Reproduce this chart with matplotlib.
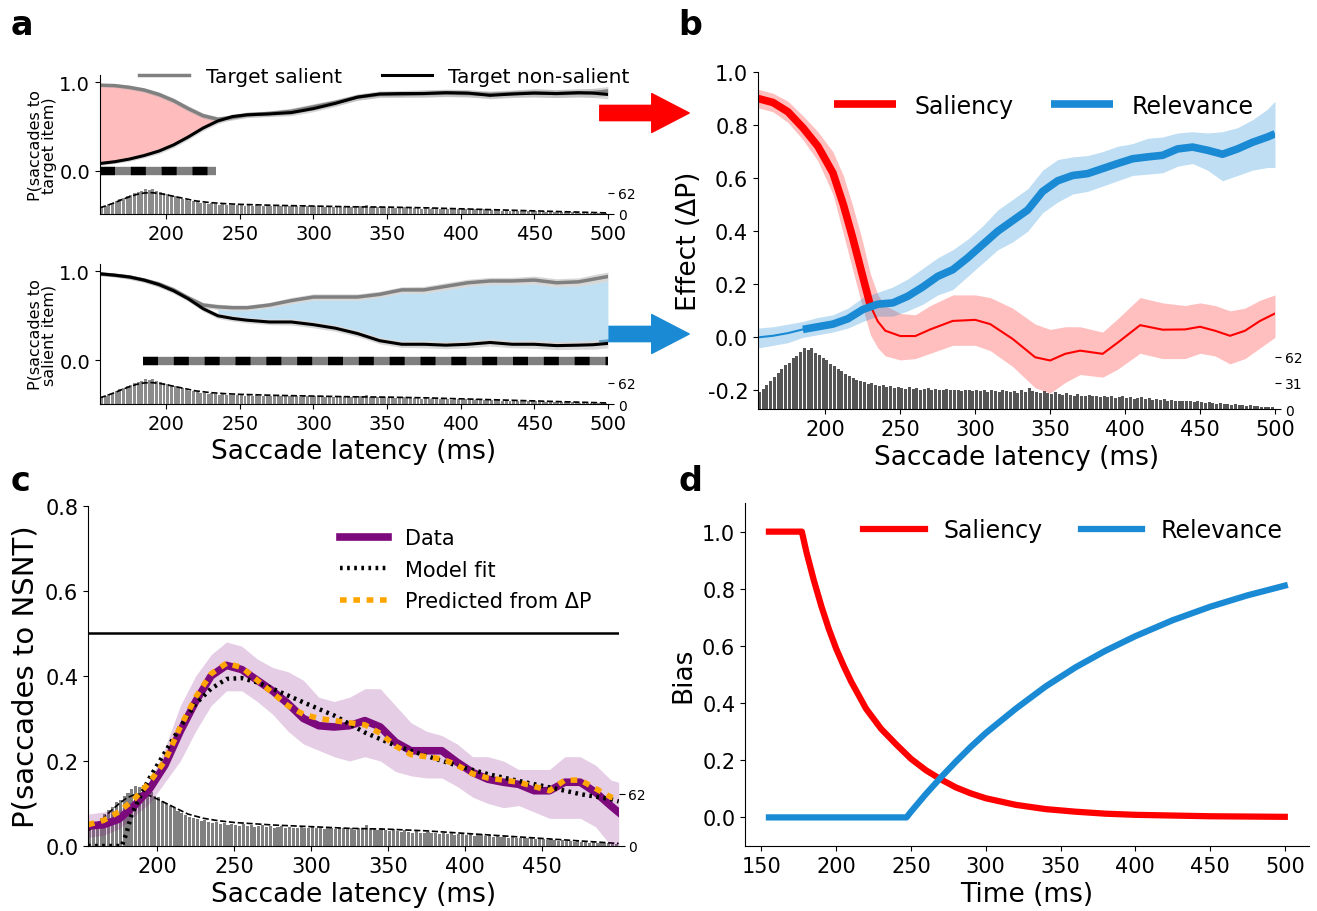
import numpy as np
import matplotlib.pyplot as plt
from matplotlib.patches import FancyArrowPatch

plt.rcParams['font.family'] = 'DejaVu Sans'
plt.rcParams['axes.unicode_minus'] = False

RED = '#ff0000'
BLUE = '#1a8ad4'
PURPLE = '#7d0a7d'
ORANGE = '#ffa500'

# ---------------- saccade latency histogram (2.5 ms bins from 155 ms) ----------------
hist_left = np.arange(155, 500, 2.5)
hist_counts = [20, 24, 29, 33, 38, 43, 47, 52, 55, 60, 63, 68,
               72, 70, 73, 66, 64, 60, 58, 53, 51, 48, 45, 42,
               39, 37, 35, 33, 32, 30, 31, 28, 27, 28, 26, 27,
               25, 26, 25, 24, 26, 24, 25, 23, 24, 25, 23, 24,
               22, 23, 24, 22, 23, 22, 21, 23, 22, 21, 23, 21,
               22, 20, 22, 21, 20, 22, 21, 20, 21, 19, 22, 20,
               25, 21, 20, 19, 21, 19, 18, 20, 18, 17, 19, 17,
               16, 18, 16, 15, 17, 15, 16, 14, 15, 14, 15, 13,
               14, 15, 13, 14, 12, 13, 14, 12, 13, 11, 12, 11,
               12, 10, 11, 10, 9, 10, 9, 9, 8, 9, 8, 7,
               8, 7, 6, 7, 6, 6, 5, 6, 5, 5, 4, 5,
               4, 4, 3, 3, 3, 2]
kde_x = [155, 160, 165, 170, 175, 180, 185, 190, 195, 200, 210, 220, 230, 240,
         250, 275, 300, 325, 350, 375, 400, 425, 450, 475, 500]
kde_y = [18, 25, 33, 42, 50, 57, 61, 62, 60, 56, 47, 38, 33, 30,
         28, 25, 23, 21, 20, 18, 15, 12, 9, 6, 3]

# ---------------- panel a ----------------
a_x = [155, 165, 175, 185, 195, 205, 215, 225, 235, 245, 255, 270, 285, 300,
       315, 330, 345, 360, 375, 390, 405, 420, 435, 450, 465, 480, 490, 500]
a1_salient = [0.965, 0.96, 0.94, 0.91, 0.86, 0.79, 0.70, 0.62, 0.58, 0.60, 0.63, 0.645, 0.67, 0.72,
              0.77, 0.83, 0.86, 0.86, 0.87, 0.875, 0.87, 0.86, 0.87, 0.88, 0.87, 0.875, 0.88, 0.90]
a1_nonsal = [0.08, 0.10, 0.13, 0.17, 0.22, 0.29, 0.38, 0.48, 0.56, 0.61, 0.63, 0.64, 0.655, 0.70,
             0.76, 0.83, 0.865, 0.87, 0.87, 0.88, 0.875, 0.85, 0.865, 0.875, 0.87, 0.88, 0.875, 0.86]
a2_salient = [0.97, 0.955, 0.935, 0.90, 0.855, 0.79, 0.70, 0.62, 0.60, 0.59, 0.59, 0.62, 0.67, 0.71,
              0.71, 0.71, 0.74, 0.79, 0.79, 0.83, 0.87, 0.89, 0.89, 0.90, 0.87, 0.88, 0.91, 0.94]
a2_nonsal = [0.97, 0.955, 0.935, 0.90, 0.85, 0.78, 0.69, 0.58, 0.50, 0.47, 0.45, 0.43, 0.43, 0.40,
             0.36, 0.30, 0.22, 0.18, 0.18, 0.17, 0.18, 0.20, 0.18, 0.18, 0.165, 0.17, 0.175, 0.19]
a_ci = [0.02, 0.02, 0.025, 0.025, 0.03, 0.03, 0.03, 0.03, 0.03, 0.03, 0.03, 0.03, 0.035, 0.035,
        0.035, 0.035, 0.035, 0.035, 0.04, 0.04, 0.04, 0.04, 0.04, 0.045, 0.045, 0.045, 0.05, 0.05]
a1_diff_end = 235
a2_diff_start = 230
a1_sig = (155, 234)
a2_sig = (184, 500)

# ---------------- panel b ----------------
sal_x = [155, 165, 175, 185, 195, 205, 212, 218, 224, 230, 235, 240, 250, 260, 270, 285, 300,
         310, 325, 340, 350, 360, 370, 385, 395, 410, 425, 440, 450, 460, 470, 480, 490, 500]
sal_y = [0.90, 0.885, 0.85, 0.79, 0.72, 0.62, 0.50, 0.38, 0.25, 0.12, 0.06, 0.025, 0.005, 0.005,
         0.03, 0.062, 0.066, 0.05, -0.006, -0.075, -0.087, -0.062, -0.05, -0.062, -0.02, 0.046,
         0.029, 0.03, 0.04, 0.025, 0.006, 0.025, 0.062, 0.09]
sal_hi = [0.935, 0.92, 0.89, 0.835, 0.775, 0.70, 0.61, 0.50, 0.38, 0.24, 0.16, 0.12, 0.09, 0.085,
          0.12, 0.16, 0.16, 0.15, 0.11, 0.05, 0.03, 0.04, 0.04, 0.02, 0.07, 0.15, 0.13, 0.12,
          0.13, 0.12, 0.10, 0.11, 0.14, 0.16]
sal_lo = [0.865, 0.85, 0.81, 0.745, 0.665, 0.54, 0.39, 0.26, 0.13, 0.01, -0.04, -0.07, -0.085,
          -0.08, -0.06, -0.03, -0.03, -0.05, -0.11, -0.19, -0.21, -0.17, -0.14, -0.15, -0.12,
          -0.06, -0.08, -0.08, -0.06, -0.07, -0.10, -0.08, -0.04, 0.0]
sal_sig_end = 232

rel_x = [155, 165, 175, 185, 195, 205, 215, 225, 235, 245, 255, 265, 275, 285, 295, 305, 315, 325,
         335, 345, 355, 365, 375, 385, 395, 405, 415, 425, 435, 445, 455, 465, 475, 485, 495, 500]
rel_y = [0.0, 0.006, 0.016, 0.03, 0.04, 0.05, 0.07, 0.105, 0.125, 0.13, 0.155, 0.19, 0.23, 0.255,
         0.30, 0.35, 0.40, 0.44, 0.48, 0.55, 0.59, 0.61, 0.617, 0.636, 0.655, 0.673, 0.68, 0.686,
         0.71, 0.717, 0.705, 0.69, 0.71, 0.735, 0.755, 0.767]
rel_hi = [0.035, 0.04, 0.05, 0.06, 0.075, 0.085, 0.11, 0.15, 0.17, 0.19, 0.22, 0.26, 0.30, 0.33,
          0.37, 0.42, 0.48, 0.52, 0.56, 0.63, 0.67, 0.68, 0.685, 0.70, 0.72, 0.73, 0.75, 0.755,
          0.77, 0.775, 0.77, 0.775, 0.79, 0.82, 0.86, 0.89]
rel_lo = [-0.04, -0.03, -0.02, 0.0, 0.01, 0.02, 0.035, 0.06, 0.08, 0.08, 0.10, 0.125, 0.16, 0.18,
          0.23, 0.28, 0.33, 0.36, 0.40, 0.47, 0.51, 0.54, 0.55, 0.57, 0.59, 0.61, 0.615, 0.62,
          0.645, 0.655, 0.63, 0.59, 0.61, 0.63, 0.64, 0.64]
rel_sig_start = 185

# ---------------- panel c ----------------
c_x = [155, 165, 175, 185, 195, 205, 215, 225, 235, 245, 255, 265, 275, 285, 295, 305, 315, 325,
       335, 345, 355, 365, 375, 385, 395, 405, 415, 425, 435, 445, 455, 465, 475, 485, 495, 500]
c_data = [0.047, 0.05, 0.063, 0.094, 0.134, 0.19, 0.27, 0.34, 0.40, 0.425, 0.415, 0.39, 0.365,
          0.335, 0.30, 0.283, 0.28, 0.283, 0.295, 0.28, 0.244, 0.224, 0.224, 0.224, 0.197, 0.173,
          0.157, 0.15, 0.145, 0.13, 0.13, 0.15, 0.15, 0.126, 0.094, 0.079]
c_hi = [0.075, 0.08, 0.085, 0.11, 0.15, 0.23, 0.33, 0.40, 0.45, 0.48, 0.47, 0.44, 0.42, 0.41,
        0.39, 0.35, 0.34, 0.35, 0.37, 0.37, 0.33, 0.29, 0.27, 0.26, 0.24, 0.21, 0.21, 0.20, 0.18,
        0.18, 0.18, 0.21, 0.21, 0.19, 0.155, 0.15]
c_lo = [0.02, 0.025, 0.04, 0.07, 0.10, 0.15, 0.20, 0.27, 0.33, 0.365, 0.365, 0.34, 0.31, 0.27,
        0.24, 0.225, 0.21, 0.20, 0.21, 0.20, 0.175, 0.165, 0.16, 0.16, 0.14, 0.115, 0.10, 0.09,
        0.095, 0.08, 0.065, 0.065, 0.065, 0.045, 0.0, 0.0]
c_pred = [0.05, 0.06, 0.08, 0.11, 0.15, 0.20, 0.28, 0.35, 0.405, 0.43, 0.42, 0.39, 0.36, 0.33,
          0.31, 0.30, 0.295, 0.29, 0.285, 0.265, 0.235, 0.215, 0.21, 0.205, 0.19, 0.17, 0.16,
          0.155, 0.15, 0.14, 0.13, 0.155, 0.155, 0.135, 0.115, 0.11]
fit_x = [155, 170, 177, 180, 183, 188, 195, 205, 215, 225, 235, 245, 255, 265, 275, 295, 315,
         335, 355, 375, 395, 415, 435, 455, 475, 495, 500]
fit_y = [0.0, 0.0, 0.0, 0.03, 0.07, 0.11, 0.16, 0.22, 0.28, 0.335, 0.37, 0.393, 0.395, 0.385,
         0.37, 0.338, 0.307, 0.267, 0.236, 0.212, 0.189, 0.169, 0.153, 0.138, 0.122, 0.11, 0.105]
chance = 0.5

# ---------------- panel d ----------------
dsal_x = [155, 177, 180, 185, 190, 195, 200, 205, 210, 220, 230, 240, 250, 260, 270, 280, 290,
          300, 320, 340, 360, 380, 400, 450, 500]
dsal_y = [1.0, 1.0, 0.93, 0.83, 0.74, 0.66, 0.59, 0.53, 0.475, 0.38, 0.31, 0.256, 0.205, 0.165,
          0.133, 0.105, 0.084, 0.067, 0.044, 0.029, 0.02, 0.013, 0.009, 0.004, 0.002]
drel_x = [155, 247, 250, 260, 270, 280, 290, 300, 320, 340, 360, 380, 400, 425, 450, 475, 500]
drel_y = [0.0, 0.0, 0.02, 0.082, 0.14, 0.195, 0.247, 0.295, 0.38, 0.458, 0.525, 0.583, 0.634,
          0.69, 0.737, 0.777, 0.811]


def style(ax):
    ax.spines['top'].set_visible(False)
    ax.spines['right'].set_visible(False)


def add_hist(ax, top, ticks, color, kde=True):
    tw = ax.twinx()
    tw.bar(hist_left, hist_counts, width=2.0, align='edge', color=color, lw=0)
    if kde:
        tw.plot(kde_x, kde_y, color='k', ls='--', lw=1.2)
    tw.set_ylim(0, top)
    tw.set_yticks(ticks)
    for s in tw.spines.values():
        s.set_visible(False)
    tw.tick_params(axis='y', length=4, labelsize=10, pad=3)
    ax.set_zorder(tw.get_zorder() + 1)
    ax.patch.set_visible(False)
    return tw


def sig_bar(ax, x0, x1):
    ax.plot([x0, x1], [-0.01, -0.01], color='#7f7f7f', lw=6, solid_capstyle='butt')
    ax.plot([x0, x1], [-0.01, -0.01], color='k', lw=6, dashes=(1.8, 1.9), dash_capstyle='butt')


fig = plt.figure(figsize=(13.17, 9.12), dpi=100)

# ---- a (top & bottom) ----
ax1 = fig.add_axes([0.0759, 0.7643, 0.3857, 0.1524])
ax2 = fig.add_axes([0.0759, 0.5559, 0.3857, 0.1535])
ax_arr = np.array(a_x)
ci = np.array(a_ci)
for ax, sal, non in [(ax1, a1_salient, a1_nonsal), (ax2, a2_salient, a2_nonsal)]:
    sal = np.array(sal)
    non = np.array(non)
    if ax is ax1:
        m = ax_arr <= a1_diff_end
        ax.fill_between(ax_arr[m], non[m], sal[m], color='#ffbcbc', lw=0)
        sig_bar(ax, *a1_sig)
        lab = 'P(saccades to\ntarget item)'
    else:
        m = ax_arr >= a2_diff_start
        ax.fill_between(ax_arr[m], non[m] + ci[m], sal[m] - ci[m], color='#bfe0f2', lw=0)
        sig_bar(ax, *a2_sig)
        lab = 'P(saccades to\nsalient item)'
    ax.fill_between(ax_arr, sal - ci, sal + ci, color='#b0b0b0', alpha=0.5, lw=0)
    ax.fill_between(ax_arr, non - ci, non + ci, color='#b0b0b0', alpha=0.5, lw=0)
    ax.plot(ax_arr, sal, color='#808080', lw=2.5, label='Target salient')
    ax.plot(ax_arr, non, color='k', lw=2.2, label='Target non-salient')
    ax.set_xlim(155, 500)
    ax.set_ylim(-0.49, 1.08)
    ax.set_yticks([0, 1])
    ax.set_yticklabels(['0.0', '1.0'])
    ax.set_xticks([200, 250, 300, 350, 400, 450, 500])
    ax.tick_params(labelsize=14)
    ax.set_ylabel(lab, fontsize=11.5, linespacing=0.9, labelpad=2)
    style(ax)
    add_hist(ax, 405, [0, 62], '#8c8c8c')
ax1.legend(loc='center', bbox_to_anchor=(0.56, 0.99), ncol=2, frameon=False, fontsize=14.5,
           handlelength=2.5, columnspacing=2.0)
ax2.set_xlabel('Saccade latency (ms)', fontsize=19, labelpad=4)

# ---- b ----
axb = fig.add_axes([0.5755, 0.5504, 0.3926, 0.3696])
sx = np.array(sal_x)
sy = np.array(sal_y)
rx = np.array(rel_x)
ry = np.array(rel_y)
axb.fill_between(sx, sal_lo, sal_hi, color=RED, alpha=0.25, lw=0)
axb.fill_between(rx, rel_lo, rel_hi, color=BLUE, alpha=0.28, lw=0)
axb.plot(sx, sy, color=RED, lw=1.5)
axb.plot(rx, ry, color=BLUE, lw=1.5)
ms = sx <= sal_sig_end
mr = rx >= rel_sig_start
axb.plot(sx[ms], sy[ms], color=RED, lw=5.5, label='Saliency', solid_capstyle='butt')
axb.plot(rx[mr], ry[mr], color=BLUE, lw=5.5, label='Relevance', solid_capstyle='butt')
axb.set_xlim(155, 500)
axb.set_ylim(-0.27, 1.0)
axb.set_yticks([-0.2, 0, 0.2, 0.4, 0.6, 0.8, 1.0])
axb.set_yticklabels(['-0.2', '0.0', '0.2', '0.4', '0.6', '0.8', '1.0'])
axb.set_xticks([200, 250, 300, 350, 400, 450, 500])
axb.tick_params(labelsize=15)
axb.set_ylabel('Effect (ΔP)', fontsize=19)
axb.set_xlabel('Saccade latency (ms)', fontsize=19, labelpad=4)
style(axb)
axb.legend(loc='center', bbox_to_anchor=(0.553, 0.9), ncol=2, frameon=False, fontsize=17,
           handlelength=2.6, columnspacing=1.6)
add_hist(axb, 400, [0, 31, 62], '#555555', kde=False)

# ---- c ----
axc = fig.add_axes([0.0668, 0.0713, 0.403, 0.3728])
axc.fill_between(c_x, c_lo, c_hi, color=PURPLE, alpha=0.2, lw=0)
axc.axhline(chance, color='k', lw=1.8)
axc.plot(c_x, c_data, color=PURPLE, lw=5.5, label='Data')
axc.plot(fit_x, fit_y, color='k', lw=3.2, ls=(0, (0.6, 1.0)), label='Model fit')
axc.plot(c_x, c_pred, color=ORANGE, lw=4, ls=(0, (1.2, 1.2)), label='Predicted from ΔP')
axc.set_xlim(155, 500)
axc.set_ylim(0, 0.8)
axc.set_yticks([0, 0.2, 0.4, 0.6, 0.8])
axc.set_xticks([200, 250, 300, 350, 400, 450])
axc.tick_params(labelsize=15)
axc.set_ylabel('P(saccades to NSNT)', fontsize=21)
axc.set_xlabel('Saccade latency (ms)', fontsize=19, labelpad=4)
style(axc)
axc.legend(loc='upper left', bbox_to_anchor=(0.44, 0.99), frameon=False, fontsize=15,
           handlelength=2.3, labelspacing=0.55)
add_hist(axc, 405, [0, 62], '#808080')

# ---- d ----
axd = fig.add_axes([0.5657, 0.0713, 0.428, 0.376])
axd.plot(dsal_x, dsal_y, color=RED, lw=4.5, label='Saliency')
axd.plot(drel_x, drel_y, color=BLUE, lw=4.5, label='Relevance')
axd.set_xlim(139, 516)
axd.set_ylim(-0.1, 1.1)
axd.set_yticks([0, 0.2, 0.4, 0.6, 0.8, 1.0])
axd.set_xticks([150, 200, 250, 300, 350, 400, 450, 500])
axd.tick_params(labelsize=15)
axd.set_ylabel('Bias', fontsize=19)
axd.set_xlabel('Time (ms)', fontsize=19, labelpad=4)
style(axd)
axd.legend(loc='center', bbox_to_anchor=(0.582, 0.921), ncol=2, frameon=False, fontsize=17,
           handlelength=2.6, columnspacing=1.6)

# arrows linking a to b
for yy, col in [(798, RED), (577, BLUE)]:
    fig.add_artist(FancyArrowPatch((597 / 1317, yy / 912), (692 / 1317, yy / 912),
                                   transform=fig.transFigure, color=col, mutation_scale=20,
                                   arrowstyle='simple,head_width=1.4,head_length=1.35,tail_width=0.55'))

# panel letters
for lx, ly, t in [(0.008, 0.972, 'a'), (0.515, 0.972, 'b'), (0.008, 0.472, 'c'), (0.515, 0.472, 'd')]:
    fig.text(lx, ly, t, fontsize=24, fontweight='bold', va='center')

fig.savefig('out.png', dpi=100)
